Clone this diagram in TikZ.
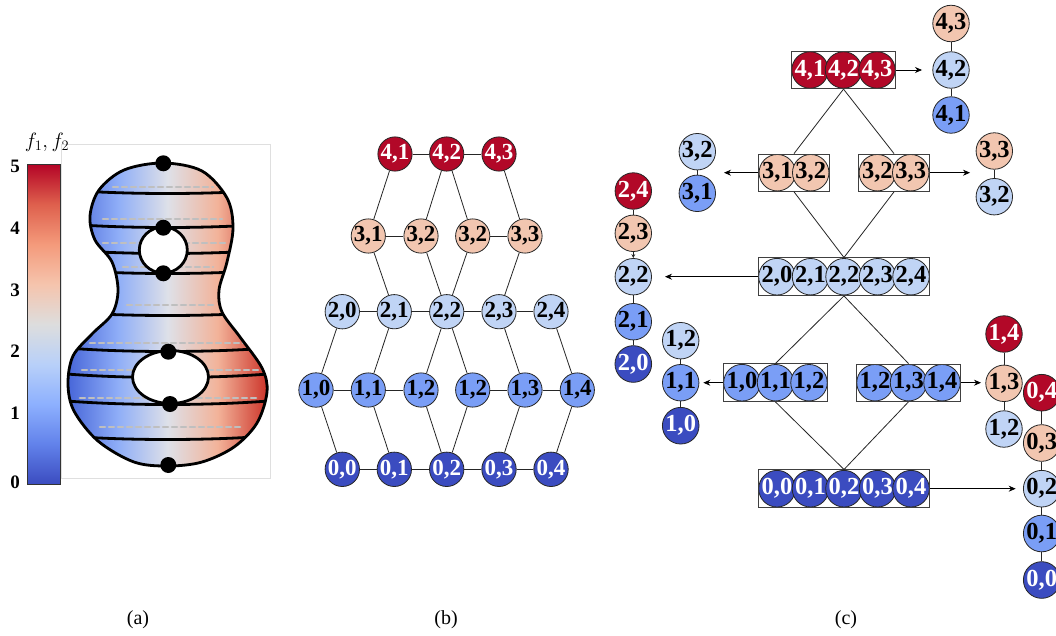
\documentclass[tikz,border=0pt]{standalone}
\usepackage{fontspec}
\setmainfont{Liberation Serif}
\usetikzlibrary{arrows.meta,fit}
\definecolor{cRed}{RGB}{178,8,40}
\definecolor{cPeach}{RGB}{242,198,176}
\definecolor{cLight}{RGB}{192,212,245}
\definecolor{cMed}{RGB}{122,158,246}
\definecolor{cDark}{RGB}{59,76,192}
\pgfdeclareverticalshading{coolwarmv}{100bp}{rgb(0bp)=(0.231,0.298,0.753); rgb(25bp)=(0.231,0.298,0.753); rgb(31.25bp)=(0.384,0.510,0.918); rgb(37.5bp)=(0.553,0.690,0.996); rgb(43.75bp)=(0.722,0.816,0.976); rgb(50bp)=(0.867,0.867,0.867); rgb(56.25bp)=(0.961,0.769,0.678); rgb(62.5bp)=(0.957,0.604,0.482); rgb(68.75bp)=(0.871,0.376,0.302); rgb(75bp)=(0.706,0.016,0.149); rgb(100bp)=(0.706,0.016,0.149)}
\pgfdeclarehorizontalshading{surfsh}{100bp}{rgb(0bp)=(0.28,0.40,0.85); rgb(25bp)=(0.28,0.40,0.85); rgb(37.5bp)=(0.56,0.68,0.97); rgb(50bp)=(0.87,0.88,0.91); rgb(62.5bp)=(0.95,0.70,0.60); rgb(75bp)=(0.80,0.20,0.16); rgb(100bp)=(0.80,0.20,0.16)}
\newcommand\surfshape{plot[smooth cycle,tension=0.55] coordinates {(163,163) (202,171) (227,198) (233,228) (227,262) (219,290) (222,312) (240,337) (262,368) (267,392) (257,423) (234,447) (202,462) (168,466) (134,462) (98,441) (74,411) (68,384) (73,356) (92,334) (112,314) (118,290) (112,262) (95,240) (90,216) (99,190) (124,170)}}
\tikzset{
  nb/.style={circle, draw=black!85, line width=0.8pt, minimum size=32pt, inner sep=0pt, font=\fontsize{23}{23}\selectfont\bfseries},
  nc/.style={nb, minimum size=33pt, font=\fontsize{24.5}{24.5}\selectfont\bfseries},
  fR/.style={fill=cRed, text=white},
  fP/.style={fill=cPeach},
  fL/.style={fill=cLight},
  fM/.style={fill=cMed},
  fD/.style={fill=cDark, text=white},
  lnk/.style={draw=black!85, line width=0.8pt},
  grp/.style={draw=black!75, line width=1pt, inner sep=0pt, rectangle},
  arr/.style={-{Stealth[length=7pt,width=6pt]}, line width=0.8pt},
  sublabel/.style={font=\fontsize{20}{20}\selectfont},
  ticklab/.style={font=\fontsize{19}{19}\selectfont\bfseries},
  lvl/.style={line width=2.8pt, black},
  dsh/.style={line width=2.6pt, gray!50, dash pattern=on 5pt off 4pt, line cap=round}
}
\begin{document}
\begin{tikzpicture}[x=1pt,y=-1pt]
\useasboundingbox[fill=white] (0,0) rectangle (1056,635);

% ---------------- (a) ----------------
\draw[gray!25, line width=0.8pt] (61,144) rectangle (270,478);
\shade[shading=coolwarmv, draw=black!80, line width=0.8pt] (27.3,164.3) rectangle (60.7,484);
\node[ticklab] (t5) at (15,166) {5};
\node[ticklab] (t4) at (15,228) {4};
\node[ticklab] (t3) at (15,290) {3};
\node[ticklab] (t2) at (15,351) {2};
\node[ticklab] (t1) at (15,413) {1};
\node[ticklab] (t0) at (15,482) {0};
\node[font=\fontsize{22}{22}\selectfont] (flab) at (47,142) {$f_1,f_2$};

\shade[shading=surfsh] \surfshape;
\begin{scope}
  \clip \surfshape;
  \draw[dsh] (113,187) -- (213,187);
  \draw[dsh] (103,219) -- (222,219);
  \draw[dsh] (103,243) -- (227,243);
  \draw[dsh] (123,267) -- (213,267);
  \draw[dsh] (127,305) -- (213,305);
  \draw[dsh] (90,343) -- (250,343);
  \draw[dsh] (82,370) -- (263,370);
  \draw[dsh] (80,398) -- (257,398);
  \draw[dsh] (100,427) -- (240,427);
  \foreach \yy in {192,226,252,272,314,350,376,403,438} {
    \draw[lvl] (55,\yy-3) .. controls (120,\yy+3) and (215,\yy+3) .. (280,\yy-3);
  }
\end{scope}
\draw[lvl, fill=white] (163.3,250) ellipse [x radius=24pt, y radius=23pt];
\draw[lvl, fill=white] (170.5,377) ellipse [x radius=38pt, y radius=26.5pt];
\draw[lvl] \surfshape;
\foreach \p in {(163.3,163.3),(163.3,227.7),(163.3,273.3),(168.3,351.7),(170,404),(168.3,465)} {
  \fill[black] \p circle (8pt);
}
\node[sublabel] (la) at (138,620) {(a)};

% ---------------- (b) ----------------
\node[nb,fR] (b41) at (395,154) {4,1};
\node[nb,fR] (b42) at (446.7,154) {4,2};
\node[nb,fR] (b43) at (499,154) {4,3};
\node[nb,fP] (b31) at (368.3,236) {3,1};
\node[nb,fP] (b32a) at (421,236) {3,2};
\node[nb,fP] (b32b) at (472.7,236) {3,2};
\node[nb,fP] (b33) at (525,236) {3,3};
\node[nb,fL] (b20) at (342.3,311.7) {2,0};
\node[nb,fL] (b21) at (394.3,311.7) {2,1};
\node[nb,fL] (b22) at (446.7,311.7) {2,2};
\node[nb,fL] (b23) at (499,311.7) {2,3};
\node[nb,fL] (b24) at (551,311.7) {2,4};
\node[nb,fM] (b10) at (316,390) {1,0};
\node[nb,fM] (b11) at (368.3,390) {1,1};
\node[nb,fM] (b12a) at (421,390) {1,2};
\node[nb,fM] (b12b) at (472.7,390) {1,2};
\node[nb,fM] (b13) at (525,390) {1,3};
\node[nb,fM] (b14) at (577.3,390) {1,4};
\node[nb,fD] (b00) at (342.3,469.3) {0,0};
\node[nb,fD] (b01) at (394.3,469.3) {0,1};
\node[nb,fD] (b02) at (446.7,469.3) {0,2};
\node[nb,fD] (b03) at (499,469.3) {0,3};
\node[nb,fD] (b04) at (551,469.3) {0,4};
\draw[lnk] (b41) -- (b42) -- (b43);
\draw[lnk] (b31) -- (b32a);
\draw[lnk] (b32b) -- (b33);
\draw[lnk] (b20) -- (b21) -- (b22) -- (b23) -- (b24);
\draw[lnk] (b10) -- (b11) -- (b12a);
\draw[lnk] (b12b) -- (b13) -- (b14);
\draw[lnk] (b00) -- (b01) -- (b02) -- (b03) -- (b04);
\draw[lnk] (b41) -- (b31);
\draw[lnk] (b42) -- (b32a);
\draw[lnk] (b42) -- (b32b);
\draw[lnk] (b43) -- (b33);
\draw[lnk] (b31) -- (b21);
\draw[lnk] (b32a) -- (b22);
\draw[lnk] (b32b) -- (b22);
\draw[lnk] (b33) -- (b23);
\draw[lnk] (b20) -- (b10);
\draw[lnk] (b21) -- (b11);
\draw[lnk] (b22) -- (b12a);
\draw[lnk] (b22) -- (b12b);
\draw[lnk] (b23) -- (b13);
\draw[lnk] (b24) -- (b14);
\draw[lnk] (b10) -- (b00);
\draw[lnk] (b11) -- (b01);
\draw[lnk] (b12a) -- (b02);
\draw[lnk] (b12b) -- (b02);
\draw[lnk] (b13) -- (b03);
\draw[lnk] (b14) -- (b04);
\node[sublabel] (lb) at (446,620) {(b)};

% ---------------- (c) ----------------
% level 4
\node[nc,fR] (c41) at (810,70) {4,1};
\node[nc,fR] (c42) at (843.5,70) {4,2};
\node[nc,fR] (c43) at (877,70) {4,3};
\node[grp,fit=(c41)(c43)] (g4) {};
% level 3
\node[nc,fP] (c31) at (777.3,172.7) {3,1};
\node[nc,fP] (c32) at (810.7,172.7) {3,2};
\node[grp,fit=(c31)(c32)] (g3L) {};
\node[nc,fP] (d32) at (877.3,172.7) {3,2};
\node[nc,fP] (d33) at (910.7,172.7) {3,3};
\node[grp,fit=(d32)(d33)] (g3R) {};
% level 2
\node[nc,fL] (c20) at (777,276.7) {2,0};
\node[nc,fL] (c21) at (810.5,276.7) {2,1};
\node[nc,fL] (c22) at (844,276.7) {2,2};
\node[nc,fL] (c23) at (877.5,276.7) {2,3};
\node[nc,fL] (c24) at (911,276.7) {2,4};
\node[grp,fit=(c20)(c24)] (g2) {};
% level 1
\node[nc,fM] (c10) at (742,382.7) {1,0};
\node[nc,fM] (c11) at (775.5,382.7) {1,1};
\node[nc,fM] (c12) at (809,382.7) {1,2};
\node[grp,fit=(c10)(c12)] (g1L) {};
\node[nc,fM] (d12) at (875,382.7) {1,2};
\node[nc,fM] (d13) at (908.5,382.7) {1,3};
\node[nc,fM] (d14) at (942,382.7) {1,4};
\node[grp,fit=(d12)(d14)] (g1R) {};
% level 0
\node[nc,fD] (c00) at (777,488.7) {0,0};
\node[nc,fD] (c01) at (810.5,488.7) {0,1};
\node[nc,fD] (c02) at (844,488.7) {0,2};
\node[nc,fD] (c03) at (877.5,488.7) {0,3};
\node[nc,fD] (c04) at (911,488.7) {0,4};
\node[grp,fit=(c00)(c04)] (g0) {};
% tree lines
\draw[lnk] (g4.south) -- (g3L.north);
\draw[lnk] (g4.south) -- (g3R.north);
\draw[lnk] (g3L.south) -- (g2.north);
\draw[lnk] (g3R.south) -- (g2.north);
\draw[lnk] (g2.south) -- (g1L.north);
\draw[lnk] (g2.south) -- (g1R.north);
\draw[lnk] (g1L.south) -- (g0.north);
\draw[lnk] (g1R.south) -- (g0.north);
% chains
\node[nc,fP] (t43) at (951,23.5) {4,3};
\node[nc,fL] (t42) at (951,70) {4,2};
\node[nc,fM] (t41) at (951,115) {4,1};
\draw[lnk] (t43) -- (t42) -- (t41);
\node[nc,fL] (p32) at (697.3,151.7) {3,2};
\node[nc,fM] (p31) at (697.3,193.3) {3,1};
\draw[lnk] (p32) -- (p31);
\node[nc,fP] (q33) at (994.3,151) {3,3};
\node[nc,fL] (q32) at (994.3,196.7) {3,2};
\draw[lnk] (q33) -- (q32);
\node[nc,fR] (r24) at (633.3,191) {2,4};
\node[nc,fP] (r23) at (633.3,233.3) {2,3};
\node[nc,fL] (r22) at (633.3,276.7) {2,2};
\node[nc,fM] (r21) at (633.3,321.7) {2,1};
\node[nc,fD] (r20) at (633.3,364) {2,0};
\draw[lnk] (r24) -- (r23);
\draw[lnk, -{Stealth[length=4pt,width=4pt]}] (r23) -- (r22);
\draw[lnk] (r22) -- (r21) -- (r20);
\node[nc,fL] (s12) at (680.7,340.7) {1,2};
\node[nc,fM] (s11) at (680.7,382.7) {1,1};
\node[nc,fD] (s10) at (680.7,425.7) {1,0};
\draw[lnk] (s12) -- (s11) -- (s10);
\node[nc,fR] (u14) at (1004,334) {1,4};
\node[nc,fP] (u13) at (1004,383.3) {1,3};
\node[nc,fL] (u12) at (1004,429) {1,2};
\draw[lnk] (u14) -- (u13) -- (u12);
\node[nc,fR] (v04) at (1041.7,392.7) {0,4};
\node[nc,fP] (v03) at (1041.7,443) {0,3};
\node[nc,fL] (v02) at (1041.7,488.7) {0,2};
\node[nc,fM] (v01) at (1041.7,533.5) {0,1};
\node[nc,fD] (v00) at (1041.7,580) {0,0};
\draw[lnk] (v04) -- (v03) -- (v02) -- (v01) -- (v00);
% arrows
\coordinate (ae4) at (922,70);
\coordinate (ae3L) at (724,172.7);
\coordinate (ae3R) at (970,172.7);
\coordinate (ae2) at (665,276.7);
\coordinate (ae1L) at (703.3,382.7);
\coordinate (ae1R) at (981,382.7);
\coordinate (ae0) at (1015.7,488.7);
\draw[arr] (g4.east) -- (ae4);
\draw[arr] (g3L.west) -- (ae3L);
\draw[arr] (g3R.east) -- (ae3R);
\draw[arr] (g2.west) -- (ae2);
\draw[arr] (g1L.west) -- (ae1L);
\draw[arr] (g1R.east) -- (ae1R);
\draw[arr] (g0.east) -- (ae0);
\node[sublabel] (lc) at (846,620) {(c)};
\end{tikzpicture}
\end{document}
